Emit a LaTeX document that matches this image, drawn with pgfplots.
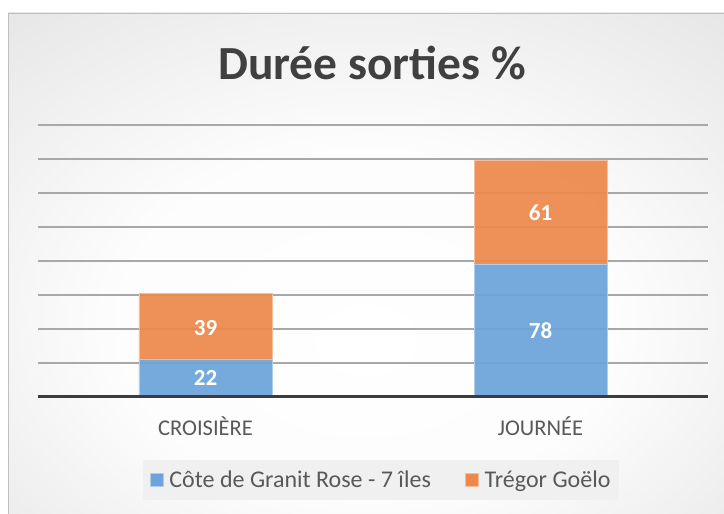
\documentclass[border=0pt]{standalone}
\usepackage{pgfplots}
\pgfplotsset{compat=1.18}
\usepackage{fontspec}
\setmainfont{Carlito}
\definecolor{cblue}{RGB}{108,164,218}
\definecolor{corange}{RGB}{237,137,76}
\definecolor{ctitle}{RGB}{64,64,64}
\definecolor{clabel}{RGB}{89,89,89}
\definecolor{cgrid}{RGB}{168,168,168}
\definecolor{cbase}{RGB}{60,60,60}
\definecolor{clegend}{RGB}{240,240,240}
\pgfdeclareradialshading{chartbg}{\pgfpoint{0bp}{-8bp}}{color(0bp)=(white); color(18bp)=(white!99!black); color(72bp)=(white!76!black)}
\begin{document}
\begin{tikzpicture}[x=1pt,y=1pt]
\useasboundingbox (0,0) rectangle (724,514);
\shade[shading=chartbg] (8,0) rectangle (724,501);
\draw[gray!50, line width=0.8pt] (8.4,0) -- (8.4,500.6) -- (724,500.6);
\node[font=\fontsize{47.5}{56}\selectfont\bfseries, text=ctitle, anchor=base] at (372,434) {Durée sorties \%};
\begin{axis}[at={(38pt,117pt)}, anchor=south west, scale only axis,
  width=670pt, height=272pt, xmin=-0.5, xmax=1.5, ymin=0, ymax=160,
  ybar stacked, bar width=133pt,
  axis line style={draw=none},
  ytick={20,40,...,160}, yticklabels={},
  ymajorgrids, grid style={cgrid, line width=1.2pt},
  xtick={0,1}, xticklabels={CROISIÈRE,JOURNÉE},
  major tick length=0pt,
  xticklabel style={font=\fontsize{22.5}{26}\selectfont, text=clabel, yshift=-16pt},
  legend columns=2,
  legend style={at={(0.512,-0.305)}, anchor=center, draw=none, fill=clegend,
    font=\fontsize{24}{28}\selectfont, text=clabel,
    /tikz/every odd column/.append style={column sep=4pt},
    /tikz/every even column/.append style={column sep=32pt},
    inner xsep=7pt, inner ysep=9pt},
  legend image code/.code={\fill[#1, fill opacity=1] (0pt,-6.5pt) rectangle (13pt,6.5pt);},
  clip=false]
\addplot[fill=cblue, fill opacity=0.93, draw=cblue!55!white, line width=0.8pt] coordinates {(0,22) (1,78)};
\addplot[fill=corange, fill opacity=0.93, draw=corange!55!white, line width=0.8pt] coordinates {(0,39) (1,61)};
\legend{Côte de Granit Rose - 7 îles, Trégor Goëlo}
\end{axis}
\begin{axis}[at={(38pt,117pt)}, anchor=south west, scale only axis,
  width=670pt, height=272pt, xmin=-0.5, xmax=1.5, ymin=0, ymax=160,
  axis y line=none, axis x line*=bottom, xtick=\empty, ytick=\empty,
  x axis line style={cbase, line width=3pt, -}]
\addplot[draw=none, mark=none, nodes near coords, point meta=explicit symbolic,
  every node near coord/.append style={anchor=center, text=white, font=\fontsize{23}{27}\selectfont\bfseries}]
  coordinates {(0,11)[22] (0,40.5)[39] (1,39)[78] (1,108.5)[61]};
\end{axis}
\end{tikzpicture}
\end{document}
